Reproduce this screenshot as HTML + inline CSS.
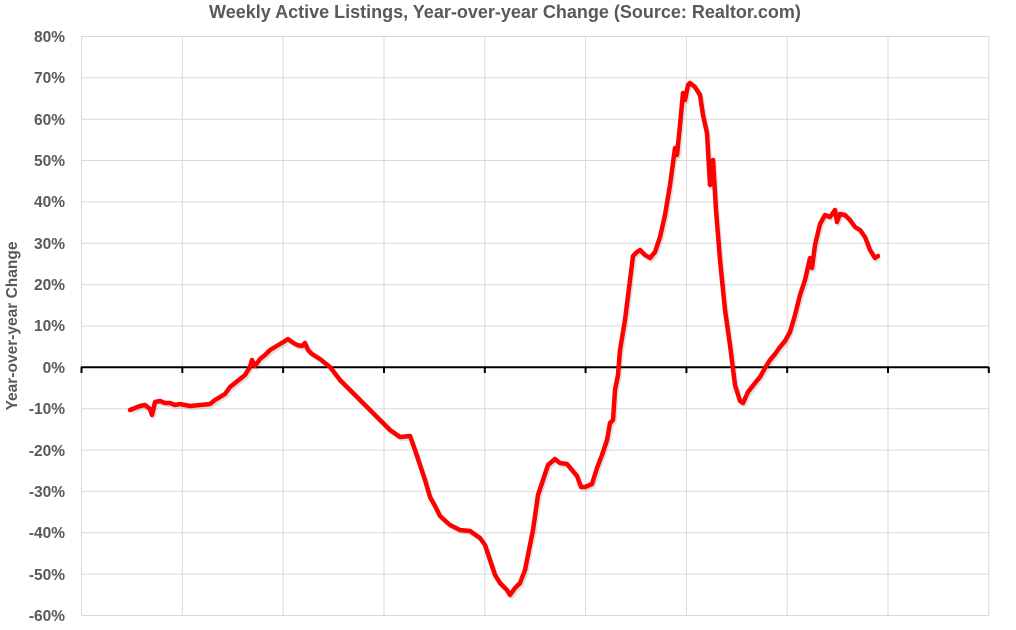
<!DOCTYPE html>
<html><head><meta charset="utf-8"><style>
body{margin:0;background:#fff;}
svg{display:block;}
text{font-family:"Liberation Sans",sans-serif;font-weight:bold;fill:#595959;}
</style></head><body>
<svg width="1016" height="630" viewBox="0 0 1016 630">
<text x="505" y="18" text-anchor="middle" font-size="18">Weekly Active Listings, Year-over-year Change (Source: Realtor.com)</text>
<g stroke="#d9d9d9" stroke-width="1">
<line x1="81.5" y1="36.5" x2="989" y2="36.5"/><line x1="81.5" y1="77.8" x2="989" y2="77.8"/><line x1="81.5" y1="119.2" x2="989" y2="119.2"/><line x1="81.5" y1="160.5" x2="989" y2="160.5"/><line x1="81.5" y1="201.9" x2="989" y2="201.9"/><line x1="81.5" y1="243.3" x2="989" y2="243.3"/><line x1="81.5" y1="284.6" x2="989" y2="284.6"/><line x1="81.5" y1="326" x2="989" y2="326"/><line x1="81.5" y1="408.7" x2="989" y2="408.7"/><line x1="81.5" y1="450.1" x2="989" y2="450.1"/><line x1="81.5" y1="491.4" x2="989" y2="491.4"/><line x1="81.5" y1="532.8" x2="989" y2="532.8"/><line x1="81.5" y1="574.1" x2="989" y2="574.1"/><line x1="81.5" y1="615.5" x2="989" y2="615.5"/>
<line x1="81.5" y1="36" x2="81.5" y2="615"/><line x1="182.3" y1="36" x2="182.3" y2="615"/><line x1="283.1" y1="36" x2="283.1" y2="615"/><line x1="384" y1="36" x2="384" y2="615"/><line x1="484.8" y1="36" x2="484.8" y2="615"/><line x1="585.6" y1="36" x2="585.6" y2="615"/><line x1="686.4" y1="36" x2="686.4" y2="615"/><line x1="787.2" y1="36" x2="787.2" y2="615"/><line x1="888" y1="36" x2="888" y2="615"/><line x1="988.8" y1="36" x2="988.8" y2="615"/>
</g>
<g stroke="#000" stroke-width="2">
<line x1="81" y1="367.3" x2="989" y2="367.3"/>
<line x1="81.5" y1="367" x2="81.5" y2="373"/><line x1="182.3" y1="367" x2="182.3" y2="373"/><line x1="283.1" y1="367" x2="283.1" y2="373"/><line x1="384" y1="367" x2="384" y2="373"/><line x1="484.8" y1="367" x2="484.8" y2="373"/><line x1="585.6" y1="367" x2="585.6" y2="373"/><line x1="686.4" y1="367" x2="686.4" y2="373"/><line x1="787.2" y1="367" x2="787.2" y2="373"/><line x1="888" y1="367" x2="888" y2="373"/><line x1="988.8" y1="367" x2="988.8" y2="373"/>
</g>
<g font-size="15.5" text-anchor="end">
<text x="65" y="42">80%</text><text x="65" y="83">70%</text><text x="65" y="125">60%</text><text x="65" y="166">50%</text><text x="65" y="207">40%</text><text x="65" y="249">30%</text><text x="65" y="290">20%</text><text x="65" y="331">10%</text><text x="65" y="373">0%</text><text x="65" y="414">-10%</text><text x="65" y="456">-20%</text><text x="65" y="497">-30%</text><text x="65" y="538">-40%</text><text x="65" y="580">-50%</text><text x="65" y="621">-60%</text>
</g>
<text transform="translate(17,326) rotate(-90)" text-anchor="middle" font-size="15.5">Year-over-year Change</text>
<polyline fill="none" stroke="#000" stroke-opacity="0.12" stroke-width="4.5" transform="translate(1.5,2)" stroke-linejoin="round" points="130,410 135,408 140,406 145,405 150,409 152,415 155,402 160,401 165,403 170,403 175,405 180,404 190,406 200,405 210,404 215,400 220,397 225,394 230,387 235,383 240,379 245,375 250,367 252,360 255,366 260,359 265,355 270,350 275,347 280,344 285,341 288,339 292,342 297,345 302,346 305,343 308,350 312,354 320,359 330,367 340,380 350,390 360,400 370,410 380,420 390,430 400,437 410,436 415,450 420,465 425,480 430,497 435,506 440,516 450,525 460,530 470,531 480,538 485,545 490,560 495,575 500,583 507,590 510,595 515,588 520,583 525,570 528,555 533,530 538,495 543,480 548,465 555,459 560,463 567,464 572,470 577,476 581,487 585,487 592,484 597,468 602,455 607,440 610,423 613,420 615,390 618,375 620,350 625,320 630,280 633,256 637,252 640,250 645,255 650,258 655,252 660,237 665,215 670,185 675,148 677,155 680,125 683,93 685,100 688,85 690,83 695,87 700,95 703,115 707,133 710,185 713,160 716,210 720,260 725,310 730,345 735,385 740,401 743,403 748,392 755,383 760,377 765,368 770,360 775,354 780,347 785,341 790,332 795,315 800,295 805,280 810,258 812,268 815,245 820,224 825,215 830,217 835,210 837,222 840,214 845,215 850,220 855,227 860,230 865,237 870,250 875,258 878,256"/>
<polyline fill="none" stroke="#ff0000" stroke-width="4.5" stroke-linejoin="round" stroke-linecap="round" points="130,410 135,408 140,406 145,405 150,409 152,415 155,402 160,401 165,403 170,403 175,405 180,404 190,406 200,405 210,404 215,400 220,397 225,394 230,387 235,383 240,379 245,375 250,367 252,360 255,366 260,359 265,355 270,350 275,347 280,344 285,341 288,339 292,342 297,345 302,346 305,343 308,350 312,354 320,359 330,367 340,380 350,390 360,400 370,410 380,420 390,430 400,437 410,436 415,450 420,465 425,480 430,497 435,506 440,516 450,525 460,530 470,531 480,538 485,545 490,560 495,575 500,583 507,590 510,595 515,588 520,583 525,570 528,555 533,530 538,495 543,480 548,465 555,459 560,463 567,464 572,470 577,476 581,487 585,487 592,484 597,468 602,455 607,440 610,423 613,420 615,390 618,375 620,350 625,320 630,280 633,256 637,252 640,250 645,255 650,258 655,252 660,237 665,215 670,185 675,148 677,155 680,125 683,93 685,100 688,85 690,83 695,87 700,95 703,115 707,133 710,185 713,160 716,210 720,260 725,310 730,345 735,385 740,401 743,403 748,392 755,383 760,377 765,368 770,360 775,354 780,347 785,341 790,332 795,315 800,295 805,280 810,258 812,268 815,245 820,224 825,215 830,217 835,210 837,222 840,214 845,215 850,220 855,227 860,230 865,237 870,250 875,258 878,256"/>
</svg>
</body></html>
